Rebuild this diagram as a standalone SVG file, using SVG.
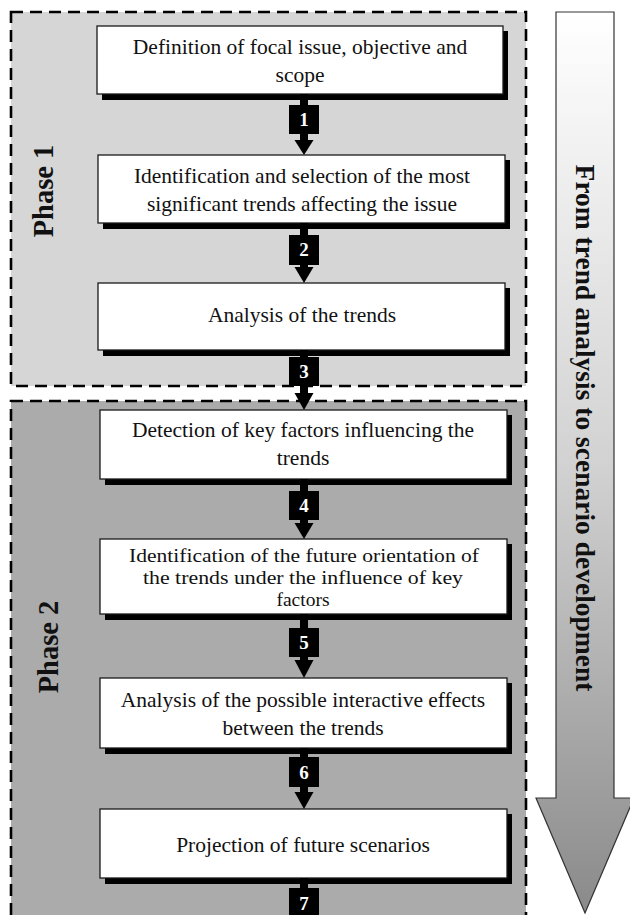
<svg xmlns="http://www.w3.org/2000/svg" width="630" height="915" viewBox="0 0 630 915">
  <defs>
    <linearGradient id="arrowGrad" gradientUnits="userSpaceOnUse" x1="0" y1="12" x2="0" y2="913">
      <stop offset="0" stop-color="#ffffff"/>
      <stop offset="0.5" stop-color="#d2d2d2"/>
      <stop offset="1" stop-color="#8a8a8a"/>
    </linearGradient>
    <style>
      .phase { stroke: #000; stroke-width: 2.6; stroke-dasharray: 12 7; }
      .p1 { fill: #d6d6d6; }
      .p2 { fill: #ababab; }
      .shadow { fill: #000; }
      .box { fill: #fff; stroke: #1a1a1a; stroke-width: 1.3; }
      .txt { font-family: "Liberation Serif", "Times New Roman", serif; font-size: 21.5px; fill: #111; text-anchor: middle; }
      .tight { font-size: 19.5px; }
      .ptxt { font-family: "Liberation Serif", "Times New Roman", serif; font-size: 28.5px; font-weight: bold; fill: #111; text-anchor: middle; }
      .atxt { font-family: "Liberation Serif", "Times New Roman", serif; font-size: 27.5px; font-weight: bold; fill: #111; text-anchor: middle; }
      .conn { fill: #000; }
      .num { font-family: "Liberation Serif", "Times New Roman", serif; font-size: 19px; font-weight: bold; fill: #fff; text-anchor: middle; }
    </style>
  </defs>

  <rect x="0" y="0" width="630" height="915" fill="#fff"/>

  <g id="phase1">
    <rect class="phase p1" x="11" y="12" width="515" height="374"/>
    <text class="ptxt" transform="translate(53,191) rotate(-90)">Phase 1</text>
  </g>
  <g id="phase2">
    <rect class="phase p2" x="11" y="401" width="515" height="540"/>
    <text class="ptxt" transform="translate(58,647) rotate(-90)">Phase 2</text>
  </g>

  <g id="direction-arrow">
    <polygon points="556,12 614,12 614,798 634,798 585,913 536,798 556,798" fill="url(#arrowGrad)" stroke="#333" stroke-width="1.2"/>
    <text class="atxt" transform="translate(576,428) rotate(90)">From trend analysis to scenario development</text>
  </g>

  <g id="node1">
    <rect class="shadow" x="102" y="31" width="406" height="69"/>
    <rect class="box" x="97" y="26" width="406" height="68"/>
    <text class="txt" x="300" y="54">Definition of focal issue, objective and</text>
    <text class="txt" x="300" y="82">scope</text>
  </g>
  <g id="node2">
    <rect class="shadow" x="103" y="160" width="407" height="69"/>
    <rect class="box" x="98" y="155" width="407" height="68"/>
    <text class="txt" x="302" y="183">Identification and selection of the most</text>
    <text class="txt" x="302" y="211">significant trends affecting the issue</text>
  </g>
  <g id="node3">
    <rect class="shadow" x="103" y="288" width="407" height="68"/>
    <rect class="box" x="98" y="283" width="407" height="67"/>
    <text class="txt" x="302" y="322">Analysis of the trends</text>
  </g>
  <g id="node4">
    <rect class="shadow" x="105" y="415" width="407" height="70"/>
    <rect class="box" x="100" y="410" width="407" height="69"/>
    <text class="txt" x="303" y="437">Detection of key factors influencing the</text>
    <text class="txt" x="303" y="465">trends</text>
  </g>
  <g id="node5">
    <rect class="shadow" x="105" y="544" width="407" height="76"/>
    <rect class="box" x="100" y="539" width="407" height="75"/>
    <text class="txt tight" x="304" y="562" textLength="350" lengthAdjust="spacingAndGlyphs">Identification of the future orientation of</text>
    <text class="txt tight" x="303" y="584" textLength="320" lengthAdjust="spacingAndGlyphs">the trends under the influence of key</text>
    <text class="txt tight" x="303" y="606">factors</text>
  </g>
  <g id="node6">
    <rect class="shadow" x="105" y="683" width="407" height="71"/>
    <rect class="box" x="100" y="678" width="407" height="70"/>
    <text class="txt" x="303" y="707">Analysis of the possible interactive effects</text>
    <text class="txt" x="303" y="735">between the trends</text>
  </g>
  <g id="node7">
    <rect class="shadow" x="105" y="814" width="407" height="70"/>
    <rect class="box" x="100" y="809" width="407" height="69"/>
    <text class="txt" x="303" y="852">Projection of future scenarios</text>
  </g>

  <g id="connectors">
    <g id="c1">
      <rect class="conn" x="300" y="94" width="8" height="46"/>
      <rect class="conn" x="289" y="105" width="30" height="29"/>
      <polygon class="conn" points="294.5,140 313.5,140 304,155"/>
      <text class="num" x="304" y="126">1</text>
    </g>
    <g id="c2">
      <rect class="conn" x="300" y="223" width="8" height="44"/>
      <rect class="conn" x="289" y="235" width="30" height="30"/>
      <polygon class="conn" points="294.5,267 313.5,267 304,283"/>
      <text class="num" x="304" y="256">2</text>
    </g>
    <g id="c3">
      <rect class="conn" x="300" y="350" width="8" height="43"/>
      <rect class="conn" x="289" y="357" width="30" height="29"/>
      <polygon class="conn" points="294.5,393 313.5,393 304,410"/>
      <text class="num" x="304" y="378">3</text>
    </g>
    <g id="c4">
      <rect class="conn" x="300" y="479" width="8" height="44"/>
      <rect class="conn" x="289" y="491" width="30" height="29"/>
      <polygon class="conn" points="294.5,523 313.5,523 304,539"/>
      <text class="num" x="304" y="512">4</text>
    </g>
    <g id="c5">
      <rect class="conn" x="300" y="614" width="8" height="46"/>
      <rect class="conn" x="289" y="628" width="30" height="29"/>
      <polygon class="conn" points="294.5,660 313.5,660 304,678"/>
      <text class="num" x="304" y="649">5</text>
    </g>
    <g id="c6">
      <rect class="conn" x="300" y="748" width="8" height="44"/>
      <rect class="conn" x="289" y="757" width="30" height="30"/>
      <polygon class="conn" points="294.5,792 313.5,792 304,809"/>
      <text class="num" x="304" y="779">6</text>
    </g>
    <g id="c7">
      <rect class="conn" x="300" y="878" width="8" height="40"/>
      <rect class="conn" x="289" y="888" width="30" height="30"/>
      <text class="num" x="304" y="910">7</text>
    </g>
  </g>
</svg>
